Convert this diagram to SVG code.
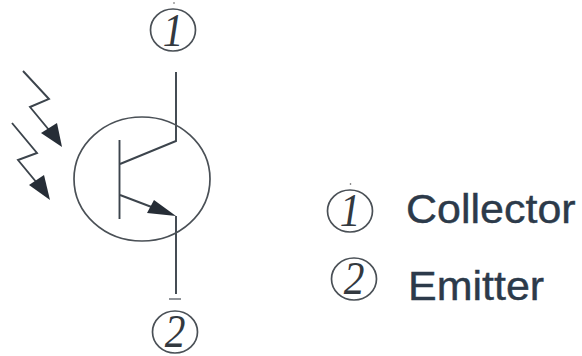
<svg xmlns="http://www.w3.org/2000/svg" width="582" height="356" viewBox="0 0 582 356">
<style>
.l{fill:none;stroke:#3c444c;stroke-width:1.9;stroke-linejoin:miter}
.c{fill:none;stroke:#4a5056;stroke-width:1.7}
.h{fill:#262d36;stroke:none}
.n{font-family:"Liberation Serif",serif;font-style:italic;font-size:46px;fill:#33393f;text-anchor:middle}
.t{font-family:"Liberation Sans",Arial,sans-serif;font-size:40px;fill:#2c3a4a;stroke:#2c3a4a;stroke-width:0.4}
.d{fill:#555}
</style>
<rect width="582" height="356" fill="#fff"/>
<g id="connectors">
<path class="l" d="M176 72V141L120 164"/>
<path class="l" d="M119.500 140V219"/>
<path class="l" d="M120 195L170 214"/>
<path class="l" d="M176 216V294"/>
<path class="l" d="M23 71L49 99L30 107L49 130"/>
<path class="l" d="M12 123L37 153L18 160L37 183"/>
<path class="l" d="M169 299H181" stroke-opacity="0.6"/>
</g>
<g id="phototransistor">
<ellipse class="c" cx="142" cy="179" rx="68" ry="62"/>
<polygon class="h" points="176,216 147,213 154,200"/>
<polygon class="h" points="62,147 41,133 57,123"/>
<polygon class="h" points="50,200 29,185 44,175"/>
</g>
<g id="pin1">
<ellipse class="c" cx="173" cy="30" rx="22.500" ry="21"/>
<circle class="d" cx="174" cy="3" r="0.8"/>
<text class="n" transform="translate(173 46) scale(0.9 1)">1</text>
</g>
<g id="pin2">
<ellipse class="c" cx="175" cy="332" rx="22.500" ry="21"/>
<text class="n" transform="translate(175 347) scale(0.9 1)">2</text>
</g>
<g id="legend-collector">
<ellipse class="c" cx="350" cy="211" rx="22.500" ry="21"/>
<circle class="d" cx="350.500" cy="184" r="0.8"/>
<text class="n" transform="translate(350 226) scale(0.9 1)">1</text>
<text class="t" transform="translate(406 223) scale(1.075 1)">Collector</text>
</g>
<g id="legend-emitter">
<ellipse class="c" cx="354" cy="279" rx="22.500" ry="21"/>
<text class="n" transform="translate(354 294) scale(0.9 1)">2</text>
<text class="t" transform="translate(408 300) scale(1.075 1)">Emitter</text>
</g>
</svg>
